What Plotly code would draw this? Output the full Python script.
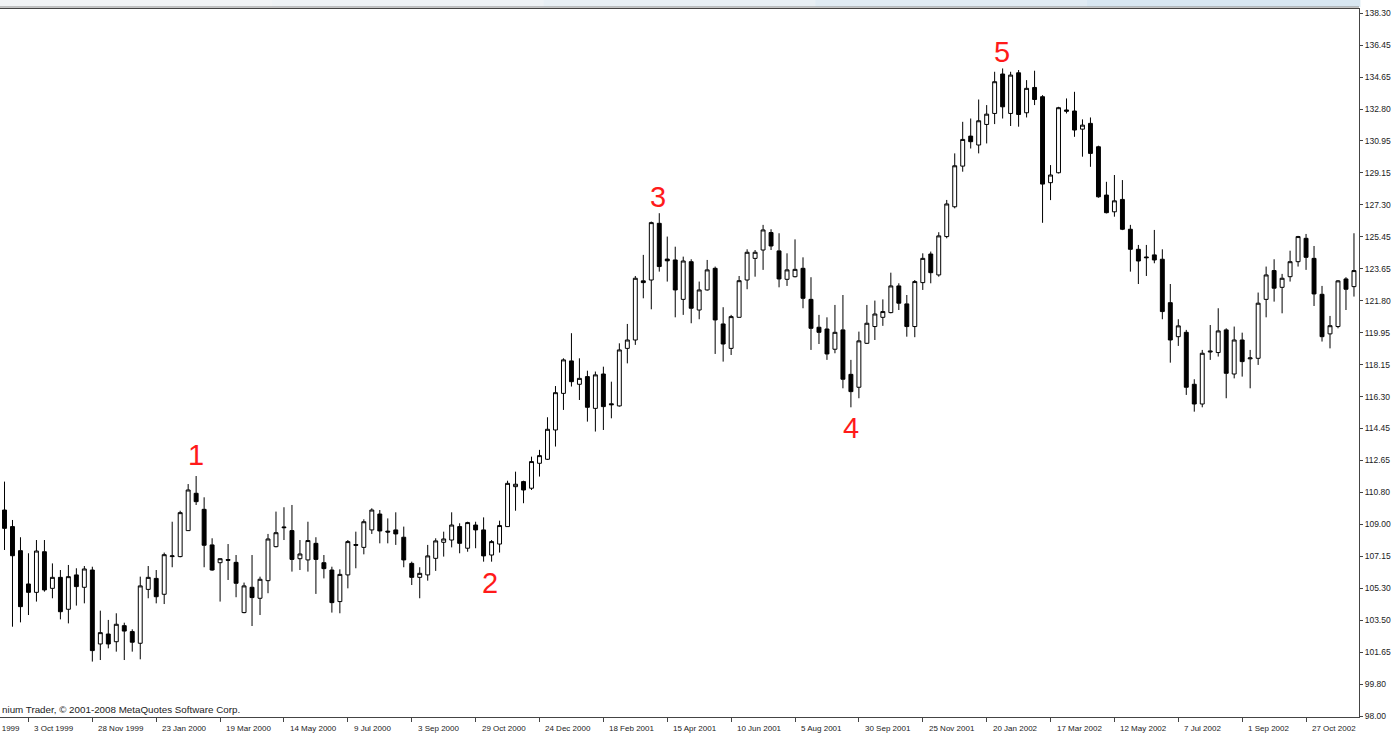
import plotly.graph_objects as go

# Weekly OHLC values
opens = [109.81,108.86,107.48,105.57,105.09,107.42,105.32,105.95,104.12,106.09,
         105.38,106.37,102.13,102.70,102.26,103.18,102.84,102.17,105.26,105.89,
         104.98,107.14,107.14,108.63,110.77,109.85,107.81,106.79,106.97,106.81,
         103.93,105.38,104.75,105.76,107.71,108.84,108.63,107.02,106.95,107.90,
         106.79,106.37,104.56,106.09,107.83,107.67,108.67,109.58,108.60,108.67,
         108.25,106.75,105.95,106.09,107.04,107.96,108.09,108.86,107.62,108.95,
         108.67,107.23,107.86,108.86,111.15,111.44,111.06,112.49,112.72,114.40,
         116.50,118.36,117.02,117.46,115.64,117.61,115.90,115.78,119.08,119.56,
         122.95,123.00,126.25,124.20,124.15,121.89,124.05,121.28,122.43,123.67,
         120.48,119.08,120.86,123.00,124.24,124.72,125.72,124.67,123.04,123.19,
         123.67,121.89,120.29,120.19,119.03,120.14,117.59,116.85,119.37,120.33,
         120.86,121.13,122.66,121.63,120.33,122.85,124.49,123.29,125.49,127.20,
         129.53,131.25,130.74,131.92,132.55,134.81,132.55,134.88,132.59,134.04,
         133.51,128.58,129.15,132.75,132.69,131.65,131.98,130.64,127.87,126.91,
         127.62,125.91,124.76,124.32,124.44,124.19,121.70,119.75,120.00,117.02,
         115.89,118.87,118.84,120.14,117.61,119.56,118.48,118.51,121.89,123.54,
         122.58,123.19,124.05,125.39,124.24,122.18,119.91,120.33,123.06,122.62]
highs = [111.44,109.24,108.25,107.33,108.09,108.09,106.75,106.37,106.66,106.47,
         106.60,106.56,104.04,103.51,103.89,103.35,102.97,105.99,106.60,106.37,
         107.37,109.14,109.77,111.30,111.76,110.54,108.19,107.04,107.86,107.23,
         105.65,107.23,105.99,108.44,109.72,109.97,110.10,108.09,109.14,108.25,
         107.23,106.56,106.41,108.09,108.57,109.28,109.91,109.81,109.33,109.68,
         108.86,106.85,106.53,107.81,108.19,108.57,109.68,109.05,109.14,109.14,
         109.39,108.09,109.20,111.49,112.01,111.49,112.87,113.26,115.13,116.92,
         118.51,119.95,118.51,117.80,117.75,118.03,117.17,119.37,120.48,123.23,
         124.44,126.35,126.83,125.49,124.91,124.34,124.19,122.91,124.15,123.77,
         121.44,121.00,123.23,124.76,124.72,126.16,125.91,125.68,124.53,125.33,
         124.30,123.16,121.00,120.86,121.57,122.14,118.42,120.04,121.57,121.82,
         121.89,123.42,122.81,122.14,123.00,124.53,124.63,125.74,127.59,130.26,
         132.07,132.26,133.35,133.03,134.94,135.13,134.94,135.04,134.46,135.00,
         133.60,129.59,132.93,133.41,133.79,132.21,132.32,130.70,128.63,129.02,
         128.73,126.16,125.01,125.01,125.87,124.76,122.77,120.75,120.14,117.31,
         118.99,120.42,121.38,120.23,120.33,119.98,118.99,122.28,123.77,124.19,
         123.35,124.68,125.53,125.64,124.95,122.66,120.94,123.00,123.16,125.68]
lows = [107.52,103.12,103.37,103.79,104.56,105.13,104.75,103.54,103.31,104.33,
        104.46,101.12,101.21,101.88,101.69,101.21,101.69,101.25,104.75,104.46,
        104.42,106.53,107.10,108.63,110.10,106.53,106.33,104.56,105.80,104.81,
        103.89,103.16,103.79,105.04,107.67,108.09,106.28,106.37,106.28,105.00,
        105.89,103.93,103.89,105.32,106.47,107.27,108.44,107.90,107.90,107.81,
        106.53,105.51,104.75,105.76,106.32,107.14,107.67,107.33,107.42,107.62,
        106.85,106.85,107.37,108.86,109.77,110.20,110.96,111.73,112.68,113.45,
        115.55,116.89,116.12,114.88,114.31,114.40,115.07,115.74,118.22,119.28,
        121.95,121.32,123.48,122.91,120.86,121.00,120.52,120.75,122.39,118.76,
        118.32,118.70,120.86,122.47,123.19,123.58,124.72,122.58,122.66,123.15,
        121.38,118.99,119.33,118.42,118.80,116.79,115.70,116.22,119.33,119.56,
        120.37,121.09,121.28,119.75,119.72,122.43,122.81,123.19,125.39,127.11,
        129.21,130.54,130.26,130.83,131.94,132.26,131.83,131.79,132.32,133.03,
        126.28,127.58,129.11,132.55,131.21,130.07,129.49,127.72,126.82,126.63,
        125.86,123.48,122.77,123.23,123.96,120.75,118.26,119.22,116.41,115.45,
        115.70,118.42,118.61,116.22,117.36,117.46,116.79,118.13,120.86,121.76,
        121.09,122.91,123.77,123.58,121.51,119.47,119.08,120.23,121.28,122.05]
closes = [108.76,107.19,104.27,105.09,107.46,105.23,105.95,103.98,105.99,105.42,
          106.43,101.75,102.78,102.13,103.26,102.87,102.23,105.46,105.95,104.84,
          107.25,107.18,109.66,110.96,110.29,107.79,106.37,107.02,106.93,105.61,
          105.46,104.79,105.84,108.15,108.51,108.80,106.98,107.29,108.06,106.98,
          106.45,104.50,106.12,108.00,107.79,109.14,109.81,108.61,108.55,108.44,
          106.95,105.95,106.18,107.18,108.04,108.15,108.95,107.90,109.09,108.67,
          107.18,108.00,108.92,111.34,111.29,110.96,112.59,112.93,114.44,116.54,
          118.42,117.17,117.36,115.70,117.56,115.74,115.85,118.99,119.56,123.10,
          122.85,126.29,123.77,124.10,122.43,124.09,121.38,122.43,123.58,120.71,
          119.33,120.90,122.96,124.59,124.59,125.87,124.95,123.06,123.58,123.61,
          121.95,120.23,120.00,118.76,120.00,117.31,116.60,119.51,120.52,121.05,
          121.19,122.66,121.67,120.33,122.91,124.24,123.42,125.53,127.36,129.55,
          131.06,130.93,132.13,132.51,134.37,132.93,134.75,132.49,133.99,133.35,
          128.50,129.02,132.88,132.68,131.60,131.88,130.26,127.77,126.86,127.54,
          125.91,124.76,124.09,124.28,124.15,121.19,119.56,120.37,116.85,115.89,
          118.80,118.92,120.08,117.65,119.56,118.32,118.53,121.67,123.29,122.53,
          123.10,124.05,125.49,124.30,122.20,119.75,120.38,122.95,122.47,123.54]

week_index = list(range(len(opens)))

date_tick_weeks = [-5, 3, 11, 19, 27, 35, 43, 51, 59, 67, 75, 83, 91, 99, 107, 115,
                   123, 131, 139, 147, 155, 163]
date_tick_labels = ["8 Aug 1999", "3 Oct 1999", "28 Nov 1999", "23 Jan 2000", "19 Mar 2000",
                    "14 May 2000", "9 Jul 2000", "3 Sep 2000", "29 Oct 2000",
                    "24 Dec 2000", "18 Feb 2001", "15 Apr 2001", "10 Jun 2001",
                    "5 Aug 2001", "30 Sep 2001", "25 Nov 2001", "20 Jan 2002",
                    "17 Mar 2002", "12 May 2002", "7 Jul 2002", "1 Sep 2002",
                    "27 Oct 2002"]

price_min, price_max = 98.00, 138.30
price_tick_labels = ["98.00", "99.80", "101.65", "103.50", "105.30", "107.15",
                     "109.00", "110.80", "112.65", "114.45", "116.30", "118.15",
                     "119.95", "121.80", "123.65", "125.45", "127.30", "129.15",
                     "130.95", "132.80", "134.65", "136.45", "138.30"]
n_int = len(price_tick_labels) - 1
price_tick_vals = [price_min + k * (price_max - price_min) / n_int for k in range(n_int + 1)]

# Wave labels: (text, week, price)
wave_text = ["1", "2", "3", "4", "5"]
wave_week = [24, 60.8, 81.8, 106.0, 124.9]
wave_price = [112.95, 105.65, 127.75, 114.5, 136.1]

fig = go.Figure()
fig.add_trace(go.Candlestick(
    x=week_index, open=opens, high=highs, low=lows, close=closes,
    increasing=dict(line=dict(color="black", width=1), fillcolor="white"),
    decreasing=dict(line=dict(color="black", width=1), fillcolor="black"),
    whiskerwidth=0, showlegend=False, hoverinfo="skip",
))

W, H = 1397, 736
mt, mb, ml, mr = 9, 19, 0, 38
ph = H - mt - mb
pw = W - ml - mr
px_per_week = 7.985
x_first = 4.5
x_lo = (0 - x_first) / px_per_week
x_hi = (pw - x_first) / px_per_week

px_per_price = 17.44
y_lo = 98.0 - (H - mb - 716) / px_per_price
y_hi = 98.0 + (716 - mt) / px_per_price

font_axis = dict(family="Liberation Sans, Arial, sans-serif", size=8, color="#222222")
font_price = dict(family="Liberation Sans, Arial, sans-serif", size=8.5, color="#222222")

annotations = []
for t, wx, wp in zip(wave_text, wave_week, wave_price):
    annotations.append(dict(x=wx, y=wp, xref="x", yref="y", text=t, showarrow=False,
                            font=dict(family="Liberation Sans, Arial, sans-serif",
                                      size=29, color="#ff1a1a"),
                            xanchor="center", yanchor="middle"))
annotations.append(dict(x=0, y=(H - mb - 709) / ph, xref="paper", yref="paper",
                        text="nium Trader, \u00a9 2001-2008 MetaQuotes Software Corp.",
                        showarrow=False, xanchor="left", yanchor="middle",
                        font=dict(family="Liberation Sans, Arial, sans-serif",
                                  size=9.8, color="#222222")))
# date labels drawn to the right of their tick marks
label_y = -(728 - (H - mb)) / ph
for wk, lab in zip(date_tick_weeks, date_tick_labels):
    xpix = x_first + wk * px_per_week
    annotations.append(dict(x=xpix / pw, y=label_y, xref="paper", yref="paper",
                            text=lab, showarrow=False, xanchor="left",
                            yanchor="middle", xshift=(12 if wk < 0 else 4),
                            font=font_axis))

shapes = []
strip_cols = ["#f1f3f5", "#eef2f5", "#e8eff4", "#e0ebf3", "#d8e7f2"]
for i, c in enumerate(strip_cols):
    shapes.append(dict(type="rect", xref="paper", yref="paper",
                       x0=i / len(strip_cols), x1=(i + 1) / len(strip_cols) + 0.001,
                       y0=1 + 2 / ph, y1=1 + mt / ph + 0.01,
                       fillcolor=c, line=dict(width=0), layer="below"))
shapes.append(dict(type="line", xref="paper", yref="paper", x0=0, x1=1,
                   y0=1 + 2 / ph, y1=1 + 2 / ph, line=dict(color="#8a8a8a", width=1)))

fig.update_layout(
    width=W, height=H,
    margin=dict(l=ml, r=mr, t=mt, b=mb, pad=0),
    paper_bgcolor="white", plot_bgcolor="white",
    showlegend=False,
    annotations=annotations,
    shapes=shapes,
    xaxis=dict(range=[x_lo, x_hi], rangeslider=dict(visible=False),
               tickmode="array", tickvals=date_tick_weeks, ticktext=date_tick_labels,
               showticklabels=False,
               ticks="outside", ticklen=4, tickcolor="#444444",
               showline=True, linecolor="#444444", linewidth=1, mirror=True,
               showgrid=False, zeroline=False, tickfont=font_axis, fixedrange=True),
    yaxis=dict(range=[y_lo, y_hi], side="right",
               tickmode="array", tickvals=price_tick_vals, ticktext=price_tick_labels,
               ticks="outside", ticklen=3, tickcolor="#444444",
               showline=True, linecolor="#444444", linewidth=1,
               showgrid=False, zeroline=False, tickfont=font_price, fixedrange=True),
)

fig.write_html("out.html", config={"displayModeBar": False},
               post_script="document.body.style.margin='0';document.body.style.overflow='hidden';")
